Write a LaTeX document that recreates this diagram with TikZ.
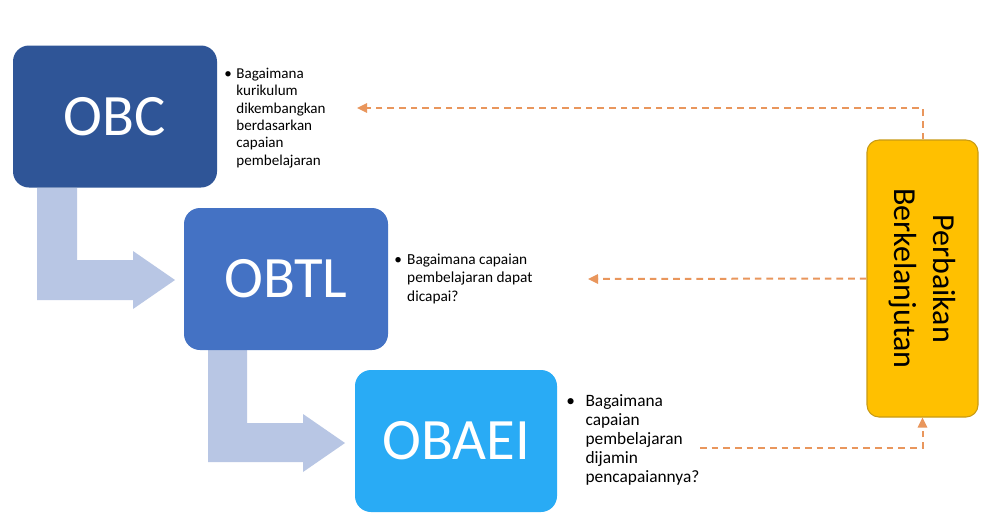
\documentclass[tikz,border=0pt]{standalone}
\usepackage{fontspec}
\setmainfont{Carlito}
\usetikzlibrary{arrows.meta,calc}
\definecolor{cobc}{RGB}{47,85,151}
\definecolor{cobtl}{RGB}{68,114,196}
\definecolor{cobaei}{RGB}{41,171,245}
\definecolor{carrow}{RGB}{184,198,228}
\definecolor{cyel}{RGB}{255,192,0}
\definecolor{cyelb}{RGB}{200,155,20}
\definecolor{corg}{RGB}{233,150,92}
\begin{document}
\begin{tikzpicture}[x=0.75pt,y=-0.75pt,
  bigbox/.style={rounded corners=12pt, text=white, font=\fontsize{44}{50}\selectfont,
    inner sep=0pt, minimum width=153pt, minimum height=106.5pt},
  fb/.style={dash pattern=on 5pt off 3.75pt, line width=1.5pt, draw=corg},
  tipto/.style={-{Triangle[length=7.5pt,width=7pt]}},
  note/.style={anchor=north west, inner sep=0pt, align=left, text=black},
  larrow/.style={fill=carrow, draw=none}]
\useasboundingbox[fill=white] (0,0) rectangle (996,519);

% L-shaped block arrows
\fill[larrow] (37,188) -- (77,188) -- (77,260) -- (133,260) -- (133,251) -- (175,280)
  -- (133,309) -- (133,300) -- (37,300) -- cycle;
\fill[larrow] (208,350) -- (247,350) -- (247,423) -- (303,423) -- (303,414) -- (345,443)
  -- (303,472) -- (303,462) -- (208,462) -- cycle;

% main boxes
\node[bigbox, fill=cobc] (obc) at (115,116.5) {OBC};
\node[bigbox, fill=cobtl] (obtl) at (286,279) {OBTL};
\node[bigbox, fill=cobaei, minimum width=151.5pt] (obaei) at (456,441) {OBAEI};

% continuous improvement box
\node[rounded corners=9pt, fill=cyel, draw=cyelb, line width=0.8pt,
  minimum width=83.25pt, minimum height=207.75pt, inner sep=0pt] (pb) at (922.5,278.5) {};
\node[rotate=-90, font=\fontsize{24}{29}\selectfont, align=center, inner sep=0pt]
  (pbt) at (pb.center) {Perbaikan\\Berkelanjutan};

% notes
\node[note, font=\fontsize{11.3}{13}\selectfont] (n1) at (224,66)
  {\begin{tabular}{@{}l@{\hspace{3.5pt}}l@{}}\textbullet & Bagaimana\\ & kurikulum\\
   & dikembangkan\\ & berdasarkan\\ & capaian\\ & pembelajaran\end{tabular}};
\node[note, font=\fontsize{11.5}{13.9}\selectfont] (n2) at (394,251)
  {\begin{tabular}{@{}l@{\hspace{4pt}}l@{}}\textbullet & Bagaimana capaian\\
   & pembelajaran dapat\\ & dicapai?\end{tabular}};
\node[note, font=\fontsize{13}{14.3}\selectfont] (n3) at (566,393)
  {\begin{tabular}{@{}l@{\hspace{8pt}}l@{}}\textbullet & Bagaimana\\ & capaian\\
   & pembelajaran\\ & dijamin\\ & pencapaiannya?\end{tabular}};

% dashed feedback connectors
\coordinate (e1) at (357,108);
\coordinate (e2) at (588,279);
\coordinate (s3) at (700,448);
\draw[fb, tipto] (pb.north) |- (e1);
\draw[fb, tipto] (pb.west) -- (e2);
\draw[fb, tipto] (s3) -| (pb.south);
\end{tikzpicture}
\end{document}
